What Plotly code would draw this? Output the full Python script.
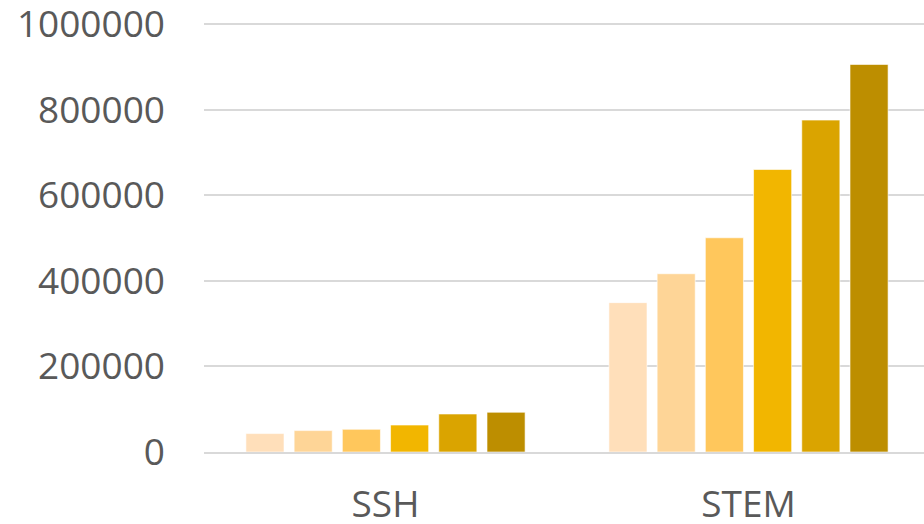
import plotly.graph_objects as go

categories = ["SSH", "STEM"]
series_names = ["S1", "S2", "S3", "S4", "S5", "S6"]
series_values = [
    [43000, 349000],
    [50000, 416500],
    [53000, 500500],
    [63000, 660000],
    [88800, 775500],
    [92800, 905500],
]
colors = ["#FFDFBA", "#FED597", "#FFC75C", "#F2B600", "#DAA400", "#BD8E00"]
tick_vals = [0, 200000, 400000, 600000, 800000, 1000000]
tick_text = ["0", "200000", "400000", "600000", "800000", "1000000"]

fig = go.Figure()
for name, vals, c in zip(series_names, series_values, colors):
    fig.add_trace(go.Bar(
        x=categories, y=vals, name=name,
        marker=dict(color=c, line=dict(color="rgba(255,255,255,0.6)", width=1)),
    ))

fig.update_layout(
    width=930, height=524,
    margin=dict(l=204, r=0, t=21, b=72, autoexpand=False),
    paper_bgcolor="white", plot_bgcolor="white",
    barmode="group", bargap=0.203, bargroupgap=0.21,
    showlegend=False,
    font=dict(family="Open Sans", size=37, color="#595959"),
)
fig.update_yaxes(
    range=[0, 1007000], tickvals=tick_vals, ticktext=tick_text,
    showgrid=True, gridcolor="#D9D9D9", gridwidth=1.5,
    zeroline=False, showline=False, ticklabelstandoff=38,
    ticklabeloverflow="allow",
)
fig.update_xaxes(
    showline=True, linecolor="#D9D9D9", linewidth=1.5,
    showgrid=False, ticks="", ticklabelstandoff=19,
    ticklabeloverflow="allow",
)
fig.write_html(
    "out.html",
    config={"displayModeBar": False},
    post_script="document.body.style.margin='0';document.body.style.overflow='hidden';",
)
